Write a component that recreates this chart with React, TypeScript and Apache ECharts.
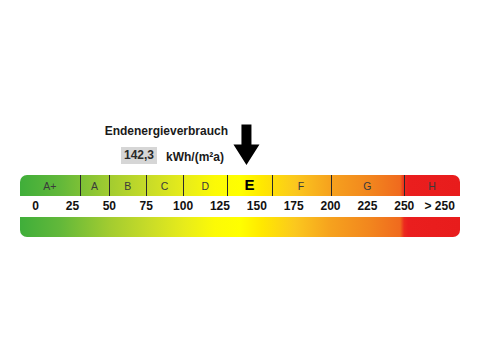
import React, { useEffect, useRef } from "react";
import * as echarts from "echarts";

// ---- data ----
const titleText = "Endenergieverbrauch";
const unitText = "kWh/(m²a)";
const consumption = [142.3];
const classNames = ["A+", "A", "B", "C", "D", "E", "F", "G", "H"];
const classUpper = [30, 50, 75, 100, 130, 160, 200, 250, 287.8];
const scaleStart = -10.6;
const tickValues = [0, 25, 50, 75, 100, 125, 150, 175, 200, 225, 250, 274];
const tickLabels = ["0", "25", "50", "75", "100", "125", "150", "175", "200", "225", "250", "> 250"];
const activeClass = "E";

const gradStops = [
  { offset: 0.0, color: "#3fae3a" },
  { offset: 0.091, color: "#62b83a" },
  { offset: 0.205, color: "#a3cc30" },
  { offset: 0.295, color: "#c9dc28" },
  { offset: 0.375, color: "#e8ec1a" },
  { offset: 0.443, color: "#fcfa06" },
  { offset: 0.5, color: "#ffff00" },
  { offset: 0.55, color: "#ffe800" },
  { offset: 0.625, color: "#fbc81e" },
  { offset: 0.705, color: "#f6a21e" },
  { offset: 0.795, color: "#f2861e" },
  { offset: 0.864, color: "#f06a1e" },
  { offset: 0.873, color: "#ec2a1e" },
  { offset: 0.882, color: "#ea1e1e" },
  { offset: 1.0, color: "#e81c1c" },
];

const FONT = "Arial, 'Liberation Sans', sans-serif";

export default function App() {
  const ref = useRef<HTMLDivElement>(null);
  useEffect(() => {
    document.body.style.margin = "0";
    const chart = echarts.init(ref.current!, undefined, { renderer: "svg" });
    const scaleEnd = classUpper[classUpper.length - 1];
    const classData = classNames.map((n, i) => [i === 0 ? scaleStart : classUpper[i - 1], classUpper[i], n]);
    const valueStr = consumption[0].toFixed(1).replace(".", ",");

    const gradient = () => new echarts.graphic.LinearGradient(0, 0, 1, 0, gradStops);

    chart.setOption({
      animation: false,
      grid: { left: 20, right: 20, top: 0, bottom: 0 },
      xAxis: { type: "value", min: scaleStart, max: scaleEnd, show: false },
      yAxis: { type: "value", min: 0, max: 360, inverse: true, show: false },
      graphic: [
        {
          type: "text",
          right: 480 - 228,
          top: 125,
          style: { text: titleText, font: `bold 12px ${FONT}`, fill: "#1a1a1a" },
        },
        { type: "rect", shape: { x: 121, y: 147, width: 36, height: 17 }, style: { fill: "#d6d6d6" } },
        {
          type: "text",
          x: 139,
          y: 155,
          style: { text: valueStr, font: `bold 12px ${FONT}`, fill: "#2a2a2a", align: "center", verticalAlign: "middle" },
        },
        {
          type: "text",
          x: 166,
          y: 157,
          style: { text: unitText, font: `bold 12px ${FONT}`, fill: "#1a1a1a", align: "left", verticalAlign: "middle" },
        },
      ],
      series: [
        {
          type: "custom",
          name: "bars",
          data: [[scaleStart, scaleEnd]],
          renderItem: (params: any, api: any) => {
            const p0 = api.coord([api.value(0), 0]);
            const p1 = api.coord([api.value(1), 0]);
            const w = p1[0] - p0[0];
            return {
              type: "group",
              children: [
                { type: "rect", shape: { x: p0[0], y: 175, width: w, height: 21, r: [7, 7, 0, 0] }, style: { fill: gradient() } },
                { type: "rect", shape: { x: p0[0], y: 217, width: w, height: 20, r: [0, 0, 7, 7] }, style: { fill: gradient() } },
              ],
            };
          },
        },
        {
          type: "custom",
          name: "classes",
          data: classData,
          renderItem: (params: any, api: any) => {
            const lo = api.coord([api.value(0), 0])[0];
            const hi = api.coord([api.value(1), 0])[0];
            const name = classNames[params.dataIndex];
            const isActive = name === activeClass;
            const children: any[] = [
              {
                type: "text",
                x: (lo + hi) / 2,
                y: isActive ? 184.5 : 186,
                style: {
                  text: name,
                  font: isActive ? `bold 15px ${FONT}` : `10.5px ${FONT}`,
                  fill: isActive ? "#000" : "#3a3a3a",
                  align: "center",
                  verticalAlign: "middle",
                },
              },
            ];
            if (params.dataIndex < classNames.length - 1) {
              children.push({
                type: "line",
                shape: { x1: Math.round(hi) + 0.5, y1: 175, x2: Math.round(hi) + 0.5, y2: 196 },
                style: { stroke: "#2a2a2a", lineWidth: 1 },
              });
            }
            return { type: "group", children };
          },
        },
        {
          type: "custom",
          name: "ticks",
          data: tickValues.map((v) => [v]),
          renderItem: (params: any, api: any) => {
            const x = api.coord([api.value(0), 0])[0];
            return {
              type: "text",
              x,
              y: 205.5,
              style: {
                text: tickLabels[params.dataIndex],
                font: `bold 12px ${FONT}`,
                fill: "#111",
                align: "center",
                verticalAlign: "middle",
              },
            };
          },
        },
        {
          type: "custom",
          name: "arrow",
          data: consumption.map((v) => [v]),
          renderItem: (params: any, api: any) => {
            const x = api.coord([api.value(0), 0])[0] + 1;
            return {
              type: "polygon",
              shape: {
                points: [
                  [x - 5, 124.5],
                  [x + 5, 124.5],
                  [x + 5, 144.5],
                  [x + 13, 144.5],
                  [x, 165],
                  [x - 13, 144.5],
                  [x - 5, 144.5],
                ],
              },
              style: { fill: "#000" },
            };
          },
        },
      ],
    });
    return () => chart.dispose();
  }, []);
  return <div ref={ref} style={{ width: 480, height: 360 }} />;
}
